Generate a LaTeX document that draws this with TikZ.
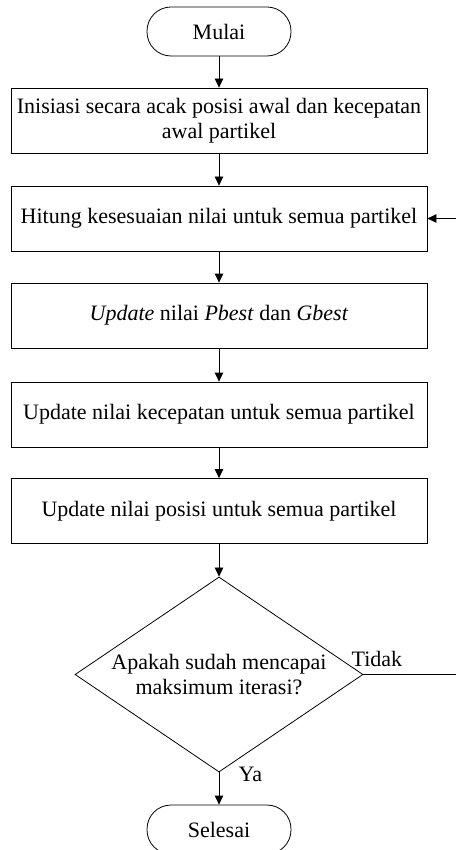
\documentclass[tikz,border=0pt]{standalone}
\usepackage{fontspec}
\setmainfont{Liberation Serif}
\usetikzlibrary{shapes.geometric,arrows.meta}

\begin{document}
\begin{tikzpicture}[x=1pt,y=-1pt,
  every node/.style={font=\fontsize{22}{25}\selectfont},
  terminal/.style={draw,line width=0.8pt,rounded corners=24pt,minimum width=144pt,minimum height=49pt,inner sep=0pt},
  process/.style={draw,line width=0.8pt,minimum width=416pt,minimum height=65pt,align=center,inner sep=0pt},
  decision/.style={draw,line width=0.8pt,diamond,aspect=1.48,minimum width=288pt,minimum height=195pt,align=center,inner sep=0pt},
  flow/.style={line width=0.8pt,-{Triangle[length=9pt,width=8.5pt]}}]
\useasboundingbox (0,0) rectangle (455,850);
\pgfmathsetmacro{\midx}{219}
% nodes
\node[terminal] (mulai) at (\midx,31.5) {Mulai};
\node[process] (init) at (\midx,120.5) {Inisiasi secara acak posisi awal dan kecepatan\\awal partikel};
\node[process] (hitung) at (\midx,218.5) {Hitung kesesuaian nilai untuk semua partikel};
\node[process] (best) at (\midx,315.5) {\textit{Update} nilai \textit{Pbest} dan \textit{Gbest}};
\node[process] (kecepatan) at (\midx,414.5) {Update nilai kecepatan untuk semua partikel};
\node[process] (posisi) at (\midx,511) {Update nilai posisi untuk semua partikel};
\node[decision] (cek) at (\midx,674.5) {Apakah sudah mencapai\\maksimum iterasi?};
\node[terminal] (selesai) at (\midx,829.5) {Selesai};
% connectors
\draw[flow] (mulai) -- (init);
\draw[flow] (init) -- (hitung);
\draw[flow] (hitung) -- (best);
\draw[flow] (best) -- (kecepatan);
\draw[flow] (kecepatan) -- (posisi);
\draw[flow] (posisi) -- (cek);
\draw[flow] (cek.south) -- node[pos=0.05,right=16pt] {Ya} (selesai);
\coordinate (loop) at (460,674.5);
\draw[flow] (cek.east) -- node[pos=0.14,above,yshift=4pt] {Tidak} (loop) |- (hitung.east);
\end{tikzpicture}
\end{document}
